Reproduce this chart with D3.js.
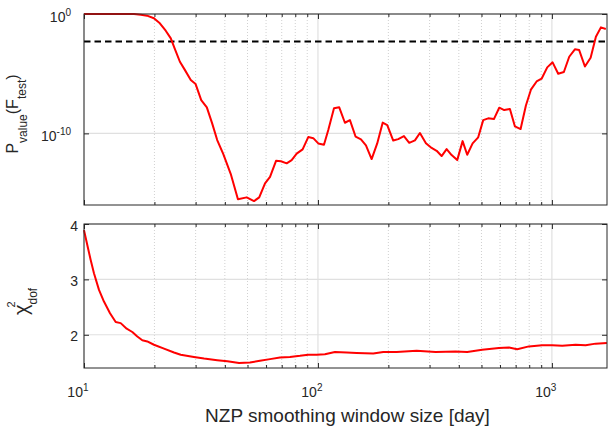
<!DOCTYPE html>
<html>
<head>
<meta charset="utf-8">
<script src="https://cdn.jsdelivr.net/npm/d3@7"></script>
<style>
  body { margin: 0; background: #fff; }
  text { font-family: "Liberation Sans", Arial, sans-serif; fill: #262626; }
</style>
</head>
<body>
<div id="chart"></div>
<script>
// smoothing window (days) and log10 of the F-test p-value
var windowDays = [10, 11.7, 14.25, 16.36, 17.5, 18.6, 19.9, 21.1, 22.35, 23.5, 24.4, 25.7, 26.9, 28.6, 30.0,
  31.7, 33.5, 35.3, 37.1, 39.4, 42.4, 45.5, 49.6, 53.3, 56.1, 59.4, 62.4, 66.2, 69.5, 73.5, 77.2, 81.1,
  86.0, 90.9, 95.5, 100.3, 106.1, 110.7, 117.1, 123.3, 130.4, 137.0, 144.9, 152.7, 160.4, 169.6, 179.2,
  189.1, 197.8, 209.8, 220.4, 233.1, 245.6, 259.7, 272.8, 289.4, 306.1, 321.6, 337.8, 354.8, 372.7,
  393.8, 415.3, 434.5, 458.3, 484.2, 508.6, 534.3, 565.1, 595.5, 625.5, 661.5, 695.0, 734.9, 774.3,
  813.4, 860.3, 903.6, 955.1, 1007, 1064, 1125, 1186, 1254, 1308, 1384, 1464, 1542, 1620, 1700];
var pValueExp = [0, 0, 0, 0, -0.07, -0.14, -0.36, -0.78, -1.40, -2.04, -2.88, -4.00, -4.64, -5.53, -5.87,
  -7.21, -7.82, -9.16, -10.56, -11.74, -13.41, -15.51, -15.36, -15.67, -15.36, -14.19, -13.64, -12.30,
  -12.34, -12.51, -12.24, -11.70, -11.34, -10.31, -10.40, -10.84, -10.95, -9.72, -7.90, -7.82, -9.11,
  -8.89, -10.28, -10.50, -11.00, -12.15, -10.84, -9.10, -9.30, -10.60, -10.48, -10.23, -10.79, -10.59,
  -9.97, -10.82, -11.22, -11.46, -11.90, -11.32, -11.82, -12.24, -10.65, -11.79, -10.84, -10.33, -8.89,
  -8.74, -8.80, -7.85, -8.05, -7.95, -9.42, -9.64, -7.66, -6.34, -5.65, -5.42, -4.47, -4.05, -5.00,
  -4.86, -3.58, -2.96, -3.02, -4.40, -3.66, -1.90, -1.12, -1.25];
var pThreshold = 0.005;

// reduced chi-square per window
var chiDays = [10, 10.33, 10.68, 11.03, 11.59, 12.17, 12.92, 13.66, 14.35, 15.22, 16.09, 16.9, 17.75,
  18.64, 19.91, 21.98, 24.25, 25.9, 29.5, 32.6, 37.1, 41.0, 46.0, 51.2, 56.5, 62.4, 68.8, 75.9, 83.8,
  90.9, 98.7, 107.1, 118.2, 132.6, 146.3, 172.3, 190.2, 216.9, 264.1, 318.4, 387.6, 434.5, 503.6, 593.6,
  655.2, 710.8, 797.5, 908.8, 1003, 1107, 1263, 1393, 1538, 1718];
var chiDof = [3.89, 3.62, 3.35, 3.11, 2.81, 2.60, 2.39, 2.23, 2.21, 2.11, 2.05, 1.97, 1.90, 1.88, 1.82,
  1.75, 1.68, 1.64, 1.60, 1.57, 1.54, 1.52, 1.49, 1.50, 1.53, 1.56, 1.59, 1.60, 1.62, 1.64, 1.64, 1.65,
  1.69, 1.68, 1.67, 1.66, 1.69, 1.69, 1.71, 1.69, 1.70, 1.69, 1.73, 1.76, 1.77, 1.74, 1.79, 1.81, 1.81,
  1.80, 1.82, 1.81, 1.84, 1.85];

var xMajor = [10, 100, 1000];
var pTickExp = [0, -10];
var chiTicks = [2, 3, 4];

var width = 609, height = 433;
var left = 84, right = 607;
var pTop = 14, pBottom = 205, cTop = 224, cBottom = 368;
var axisColor = "#262626";

var svg = d3.select("#chart")
  .append("svg")
    .attr("width", width)
    .attr("height", height);

var x = d3.scaleLog().domain([10, 1720]).range([left, right]);
var yP = d3.scaleLog().domain([1e-16, 1]).range([pBottom, pTop]);
var yC = d3.scaleLinear().domain([1.4, 4]).range([cBottom, cTop]);

var xMinor = x.ticks().filter(function(d) { return xMajor.indexOf(d) < 0; });
var pTicks = pTickExp.map(function(e) { return Math.pow(10, e); });

function panel(y0, y1, yScale, yTicks) {
  var g = svg.append("g");
  // grid
  g.selectAll(".minor").data(xMinor).enter().append("line")
    .attr("x1", function(d) { return x(d); }).attr("x2", function(d) { return x(d); })
    .attr("y1", y0).attr("y2", y1)
    .attr("stroke", "#c4c4c4").attr("stroke-width", 0.8).attr("stroke-dasharray", "1,2");
  g.selectAll(".major").data(xMajor).enter().append("line")
    .attr("x1", function(d) { return x(d); }).attr("x2", function(d) { return x(d); })
    .attr("y1", y0).attr("y2", y1)
    .attr("stroke", "#e0e0e0").attr("stroke-width", 1.2);
  g.selectAll(".hgrid").data(yTicks).enter().append("line")
    .attr("x1", left).attr("x2", right)
    .attr("y1", function(d) { return yScale(d); }).attr("y2", function(d) { return yScale(d); })
    .attr("stroke", "#e0e0e0").attr("stroke-width", 1.2);

  // inward ticks on all four sides
  var ax = [
    d3.axisBottom(x).tickValues(xMinor).tickSize(-3), d3.axisBottom(x).tickValues(xMajor).tickSize(-5),
    d3.axisTop(x).tickValues(xMinor).tickSize(-3), d3.axisTop(x).tickValues(xMajor).tickSize(-5)
  ];
  ax.forEach(function(a, i) {
    g.append("g")
      .attr("transform", "translate(0," + (i < 2 ? y1 : y0) + ")")
      .call(a.tickFormat(""))
      .call(function(s) { s.select(".domain").remove(); s.selectAll("line").attr("stroke", axisColor); });
  });
  [d3.axisLeft(yScale), d3.axisRight(yScale)].forEach(function(a, i) {
    g.append("g")
      .attr("transform", "translate(" + (i == 0 ? left : right) + ",0)")
      .call(a.tickValues(yTicks).tickSize(-5).tickFormat(""))
      .call(function(s) { s.select(".domain").remove(); s.selectAll("line").attr("stroke", axisColor); });
  });
  return g;
}

var gP = panel(pTop, pBottom, yP, pTicks);
var gC = panel(cTop, cBottom, yC, chiTicks);

// threshold line
gP.append("line")
  .attr("x1", left).attr("x2", right)
  .attr("y1", yP(pThreshold)).attr("y2", yP(pThreshold))
  .attr("stroke", "#000").attr("stroke-width", 2).attr("stroke-dasharray", "6.5,4");

var pLine = d3.line()
  .x(function(d, i) { return x(windowDays[i]); })
  .y(function(d) { return yP(Math.pow(10, d)); });
gP.append("path")
  .attr("d", pLine(pValueExp))
  .attr("fill", "none").attr("stroke", "#ff0000").attr("stroke-width", 2).attr("stroke-linejoin", "round");

var cLine = d3.line()
  .x(function(d, i) { return x(chiDays[i]); })
  .y(function(d) { return yC(d); });
gC.append("path")
  .attr("d", cLine(chiDof))
  .attr("fill", "none").attr("stroke", "#ff0000").attr("stroke-width", 2).attr("stroke-linejoin", "round");

// axes boxes
[[pTop, pBottom], [cTop, cBottom]].forEach(function(b) {
  svg.append("rect")
    .attr("x", left).attr("y", b[0])
    .attr("width", right - left).attr("height", b[1] - b[0])
    .attr("fill", "none").attr("stroke", axisColor).attr("stroke-width", 1);
});

// tick labels
function powTen(t, e) {
  t.append("tspan").text("10");
  t.append("tspan").attr("dy", -6).style("font-size", "10px").text(e);
}
xMajor.forEach(function(d) {
  var t = svg.append("text")
    .attr("x", x(d) + 4.5).attr("y", 397)
    .attr("text-anchor", "end").style("font-size", "14px");
  powTen(t, Math.round(Math.log10(d)));
});
pTickExp.forEach(function(e) {
  var t = svg.append("text")
    .attr("x", left - 13).attr("y", yP(Math.pow(10, e)) + 7.5)
    .attr("text-anchor", "end").style("font-size", "14px");
  powTen(t, e);
});
chiTicks.forEach(function(d) {
  svg.append("text")
    .attr("x", left - 6).attr("y", yC(d) + 6.5)
    .attr("text-anchor", "end").style("font-size", "14px")
    .text(d);
});

// axis labels
svg.append("text")
  .attr("x", (left + right) / 2 + 2).attr("y", 422)
  .attr("text-anchor", "middle").style("font-size", "19px")
  .text("NZP smoothing window size [day]");

var yl = svg.append("text")
  .attr("transform", "translate(18,114) rotate(-90)")
  .attr("text-anchor", "middle").style("font-size", "16px");
yl.append("tspan").text("P");
yl.append("tspan").attr("dy", 9).style("font-size", "12px").text("value");
yl.append("tspan").attr("dy", -9).text("(F");
yl.append("tspan").attr("dy", 8).style("font-size", "12px").text("test");
yl.append("tspan").attr("dy", -8).text(")");

// chi^2_dof with stacked super/subscript
var cl = svg.append("g").attr("transform", "translate(28,297) rotate(-90)");
var chi = cl.append("text").attr("x", -18).attr("y", 0).style("font-size", "20px").text("χ");
var chiEnd = -18 + chi.node().getComputedTextLength();
cl.append("text").attr("x", chiEnd - 3).attr("y", -13).style("font-size", "11px").text("2");
cl.append("text").attr("x", chiEnd).attr("y", 9).style("font-size", "12px").text("dof");
</script>
</body>
</html>
